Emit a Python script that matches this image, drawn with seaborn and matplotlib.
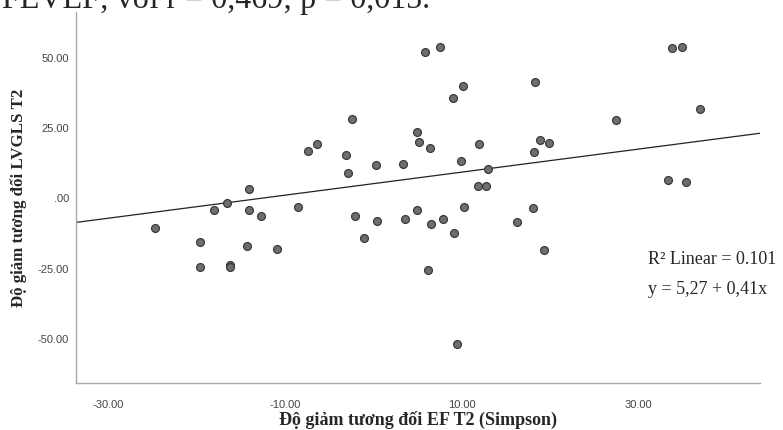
import matplotlib
matplotlib.use("Agg")
import matplotlib.pyplot as plt
import pandas as pd
import seaborn as sns

# relative reduction of EF (Simpson) vs relative reduction of LVGLS, T2
ef_t2 = [
    -2.47, -7.42, -6.36, -3.11, -2.93, 0.25, -14.07, -16.6, -18.1, -14.07,
    -12.8, -8.58, -24.7, -2.13, 0.43, -1.04, -19.65, -14.36, -10.93, -19.65,
    -16.2, -16.2,
    5.83, 7.5, 33.8, 34.9, 18.3, 10.1, 9.0, 37.0, 27.5, 4.93,
    5.15, 6.43, 11.95, 18.86, 19.84, 18.2, 3.38, 9.94, 13.0, 11.8,
    12.74, 33.3, 35.4, 3.53, 4.89, 6.55, 7.9, 10.28, 9.15, 16.2,
    18.06, 19.27, 6.2, 9.46,
]
lvgls_t2 = [
    28.3, 16.8, 19.4, 15.6, 9.2, 11.9, 3.5, -1.5, -4.3, -4.0,
    -6.2, -2.9, -10.4, -6.2, -7.9, -14.2, -15.7, -17.0, -17.9, -24.3,
    -23.6, -24.3,
    52.1, 53.8, 53.6, 54.0, 41.5, 39.9, 35.9, 31.9, 27.9, 23.8,
    20.1, 18.0, 19.4, 20.8, 19.7, 16.5, 12.4, 13.2, 10.4, 4.6,
    4.6, 6.6, 5.9, -7.3, -4.3, -9.0, -7.3, -3.1, -12.2, -8.4,
    -3.4, -18.2, -25.4, -51.8,
]

intercept = 5.27
slope = 0.41
r2_text = "R² Linear = 0.101"
eq_text = "y = 5,27 + 0,41x"

x_ticks = [-30, -10, 10, 30]
x_ticklabels = ["-30.00", "-10.00", "10.00", "30.00"]
y_ticks = [-50, -25, 0, 25, 50]
y_ticklabels = ["-50.00", "-25.00", ".00", "25.00", "50.00"]

df = pd.DataFrame({"ef": ef_t2, "lvgls": lvgls_t2})

sns.set_theme(style="white")
plt.rcParams["font.family"] = ["Liberation Serif", "DejaVu Serif"]

fig = plt.figure(figsize=(7.83, 4.30), dpi=100)
ax = fig.add_axes([0.097, 0.109, 0.874, 0.863])

sns.scatterplot(data=df, x="ef", y="lvgls", ax=ax, s=32,
                color="#6e6e6e", edgecolor="#3a3a3a", linewidth=0.9, zorder=3)
ax.axline((0, intercept), slope=slope, color="#222222", linewidth=0.9, zorder=2)

ax.set_xlim(-33.7, 43.8)
ax.set_ylim(-65.8, 66.4)

ax.set_xticks(x_ticks)
ax.set_xticklabels(x_ticklabels, family=["Liberation Sans", "DejaVu Sans"],
                   fontsize=8, color="#444444")
ax.set_yticks(y_ticks)
ax.set_yticklabels(y_ticklabels, family=["Liberation Sans", "DejaVu Sans"],
                   fontsize=8, color="#444444")
ax.tick_params(axis="x", length=0, pad=12)
ax.tick_params(axis="y", length=0, pad=5)

for side in ["top", "right"]:
    ax.spines[side].set_visible(False)
for side in ["left", "bottom"]:
    ax.spines[side].set_color("#a8a8a8")
    ax.spines[side].set_linewidth(1.0)

ax.set_xlabel("Độ giảm tương đối EF T2 (Simpson)", fontsize=13,
              fontweight="bold", labelpad=1)
ax.set_ylabel("Độ giảm tương đối LVGLS T2", fontsize=12.2,
              fontweight="bold", labelpad=8)

ax.text(0.836, 0.334, r2_text, transform=ax.transAxes, fontsize=13,
        va="center", ha="left")
ax.text(0.836, 0.251, eq_text, transform=ax.transAxes, fontsize=13,
        va="center", ha="left")

# remnant of the document line above the chart
fig.text(430 / 783, 1 - 8 / 430, "FEVEF; với r = 0,469; p = 0,015.",
         fontsize=23, ha="right", va="baseline")

fig.savefig("out.png", dpi=100)
plt.close(fig)
